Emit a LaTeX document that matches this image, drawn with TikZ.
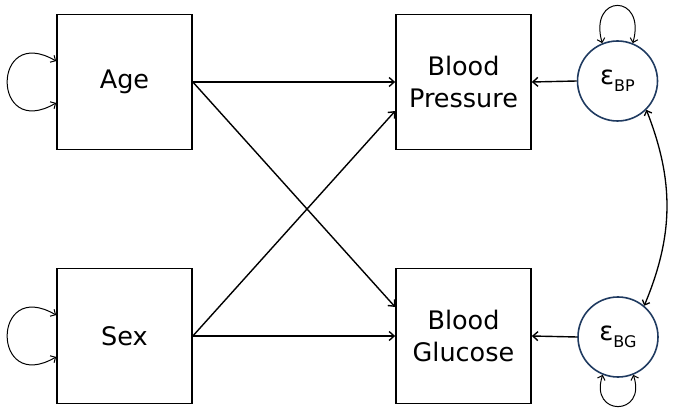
\documentclass[tikz,border=0pt]{standalone}
\usepackage{fontspec}
\setmainfont{DejaVu Sans}
\usetikzlibrary{arrows.meta}
\definecolor{navy}{HTML}{1F3A60}
\newcommand{\errsub}[1]{\raisebox{-7pt}{\fontsize{16}{16}\selectfont #1}}
\begin{document}
\begin{tikzpicture}[x=1pt,y=-1pt,
  box/.style={draw,line width=1.7pt,minimum width=135pt,minimum height=135pt,inner sep=0pt,align=center,font=\fontsize{25.5}{32}\selectfont},
  err/.style={draw=navy,line width=1.6pt,circle,minimum size=80pt,inner sep=0pt,font=\fontsize{26}{30}\selectfont},
  path/.style={line width=1.4pt,-{Straight Barb[length=5pt,width=9pt]}},
  loop/.style={line width=1pt,{Straight Barb[length=4pt,width=8pt]}-{Straight Barb[length=4pt,width=8pt]}}]
\useasboundingbox (0,0) rectangle (681,409);
\node[box] (age) at (124.5,82) {Age};
\node[box] (sex) at (124.5,336) {Sex};
\node[box] (bp) at (463.5,82) {Blood\\Pressure};
\node[box] (bg) at (463.5,336) {Blood\\Glucose};
\node[err] (ebp) at (617.5,81) {ε\errsub{BP}};
\node[err] (ebg) at (618,337) {ε\errsub{BG}};
\draw[path] (age.east) -- (bp.west);
\draw[path] (age.east) -- (bg.157);
\draw[path] (sex.east) -- (bp.203);
\draw[path] (sex.east) -- (bg.west);
\draw[path] (ebp.west) -- (bp.east);
\draw[path] (ebg.west) -- (bg.east);
\draw[loop] (age.163) .. controls +(-65,-38) and +(-65,38) .. (age.197);
\draw[loop] (sex.163) .. controls +(-65,-38) and +(-65,38) .. (sex.197);
\draw[loop] (ebp.112) .. controls +(-14,-50) and +(14,-50) .. (ebp.68);
\draw[loop] (ebg.248) .. controls +(-14,42) and +(14,42) .. (ebg.292);
\draw[loop,line width=1.3pt] (ebp.-45) to[bend left=22] (ebg.50);
\end{tikzpicture}
\end{document}
